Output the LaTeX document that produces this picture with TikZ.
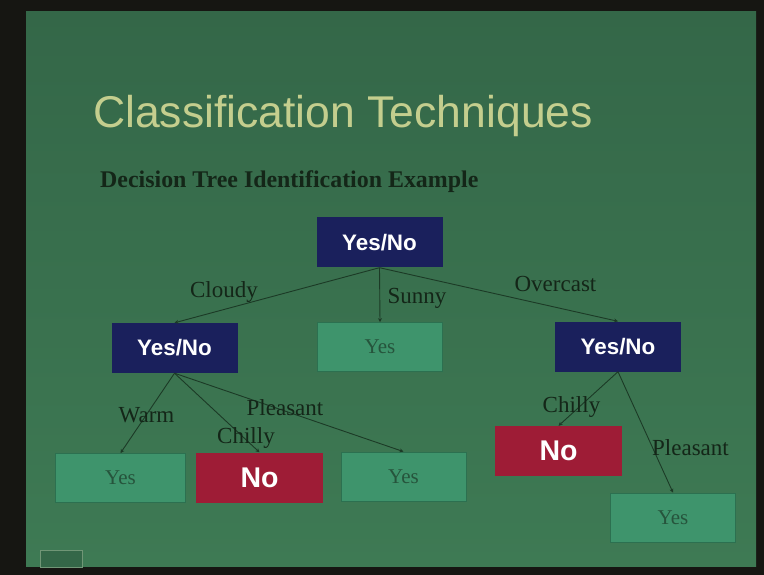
\documentclass[tikz,border=0pt]{standalone}
\usepackage{fontspec}
\setmainfont{Liberation Serif}
\setsansfont{Liberation Sans}
\usetikzlibrary{arrows.meta}

\definecolor{framecol}{RGB}{22,22,18}
\definecolor{slidetop}{RGB}{52,103,72}
\definecolor{slidebot}{RGB}{62,122,84}
\definecolor{titlecol}{RGB}{196,206,142}
\definecolor{darktext}{RGB}{20,38,24}
\definecolor{navybox}{RGB}{26,32,92}
\definecolor{leafgreen}{RGB}{62,148,108}
\definecolor{leafedge}{RGB}{44,112,80}
\definecolor{yestext}{RGB}{38,84,60}
\definecolor{nored}{RGB}{158,28,54}
\definecolor{edgecol}{RGB}{28,58,38}
\definecolor{iconedge}{RGB}{112,150,118}

\tikzset{
  decision/.style={fill=navybox, minimum width=126pt, minimum height=50pt, inner sep=0pt,
    text=white, font=\sffamily\bfseries\fontsize{22.4}{24}\selectfont},
  leafyes/.style={fill=leafgreen, draw=leafedge, line width=0.8pt, minimum width=125pt,
    minimum height=49pt, inner sep=0pt, text=yestext, font=\fontsize{21}{24}\selectfont},
  leafno/.style={fill=nored, minimum width=127pt, minimum height=50pt, inner sep=0pt,
    text=white, font=\sffamily\bfseries\fontsize{28.5}{30}\selectfont},
  cond/.style={text=darktext, inner sep=0pt, font=\fontsize{23}{24}\selectfont},
  branch/.style={draw=edgecol, line width=0.9pt, -{Stealth[length=4pt,width=4pt]}}
}

\begin{document}
\begin{tikzpicture}[x=1pt, y=-1pt]

% Photo frame and slide
\useasboundingbox (0,0) rectangle (764,575);
\fill[framecol] (0,0) rectangle (764,575);
\fill[top color=slidetop, bottom color=slidebot] (26,12) rectangle (756,566);

% Headings
\node[anchor=base west, inner sep=0pt, text=titlecol,
  font=\sffamily\fontsize{44.5}{48}\selectfont] (title) at (93,128) {Classification Techniques};
\node[anchor=base west, inner sep=0pt, text=darktext,
  font=\bfseries\fontsize{23.9}{26}\selectfont] (subtitle) at (100,188) {Decision Tree Identification Example};

% Tree nodes
\node[decision] (root) at (379.5,242.5) {Yes/No};
\node[decision] (cloudyq) at (174.5,348) {Yes/No};
\node[leafyes] (sunnyyes) at (380,347) {Yes};
\node[decision] (overq) at (618,346.5) {Yes/No};

\node[leafyes, minimum width=130pt] (warmyes) at (120.5,478) {Yes};
\node[leafno] (chillyno) at (259.5,477.5) {No};
\node[leafyes] (pleasantyes) at (403.5,476.5) {Yes};
\node[leafno] (overno) at (558.5,451) {No};
\node[leafyes] (overyes) at (673,517.5) {Yes};

% Branches
\foreach \a/\b in {root/cloudyq, root/sunnyyes, root/overq,
                   cloudyq/warmyes, cloudyq/chillyno, cloudyq/pleasantyes,
                   overq/overno, overq/overyes} {
    \draw[branch] (\a.south) -- (\b.north);
}

% Branch labels
\node[cond] (lblcloudy) at (224,292) {Cloudy};
\node[cond] (lblsunny) at (417,298) {Sunny};
\node[cond] (lblover) at (555.5,284) {Overcast};
\node[cond] (lblwarm) at (146.5,415) {Warm};
\node[cond] (lblchilly) at (246,438) {Chilly};
\node[cond] (lblpleasant) at (285,408) {Pleasant};
\node[cond] (lblchilly2) at (571.5,407) {Chilly};
\node[cond] (lblpleasant2) at (690.5,448) {Pleasant};

% Slide control icon
\draw[iconedge, line width=1pt, fill=slidetop] (40,550) rectangle (82,567);

\end{tikzpicture}
\end{document}
